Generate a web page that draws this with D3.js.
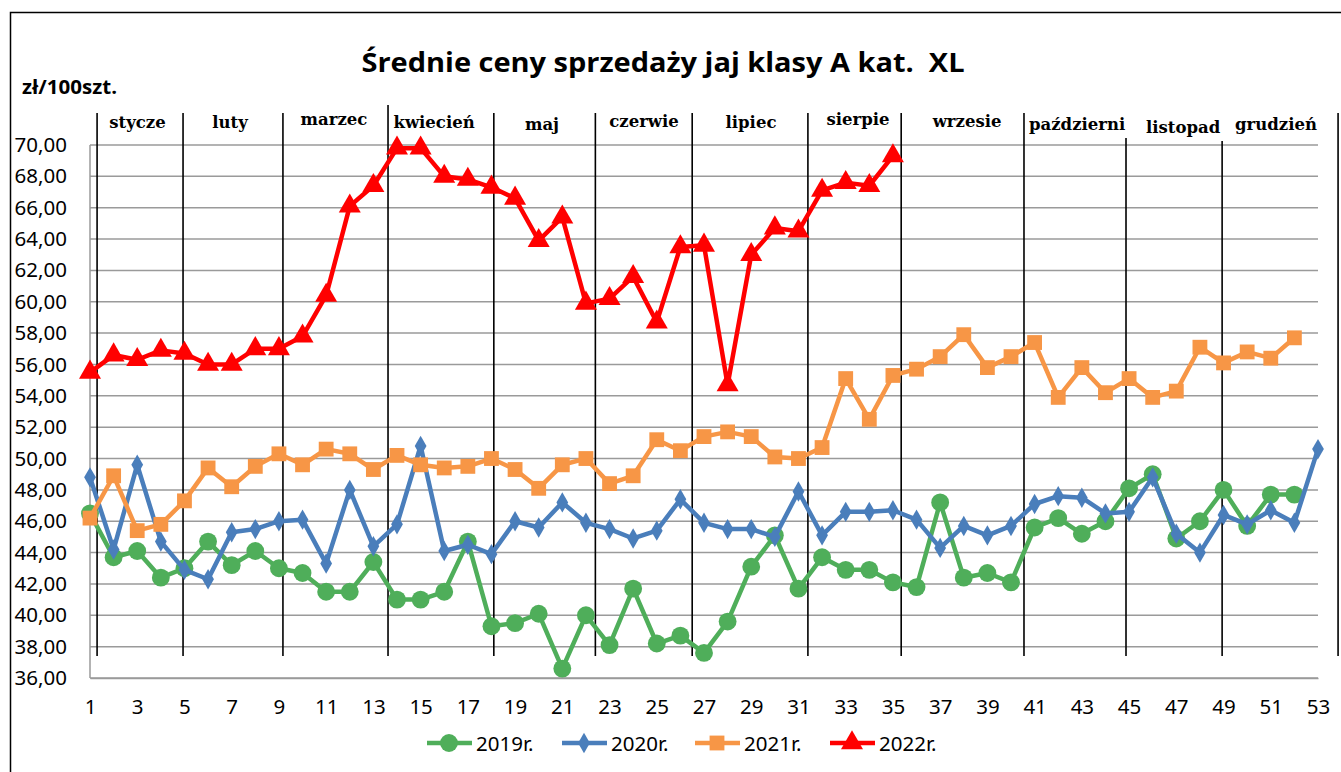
<!DOCTYPE html>
<html>
<head>
<meta charset="utf-8">
<script src="https://cdn.jsdelivr.net/npm/d3@7"></script>
<style>
  body { margin: 0; background: #fff; }
  svg { display: block; }
  text { white-space: pre; }
</style>
</head>
<body>
<script>
// weeks 1..53
const weeks = d3.range(1, 54);
const yTicks = d3.range(36, 71, 2);
const xTicks = d3.range(1, 54, 2);

const v2019 = [46.5, 43.7, 44.1, 42.4, 43.0, 44.7, 43.2, 44.1, 43.0, 42.7, 41.5, 41.5, 43.4, 41.0, 41.0, 41.5, 44.7, 39.3, 39.5, 40.1,
  36.6, 40.0, 38.1, 41.7, 38.2, 38.7, 37.6, 39.6, 43.1, 45.1, 41.7, 43.7, 42.9, 42.9, 42.1, 41.8, 47.2, 42.4, 42.7, 42.1,
  45.6, 46.2, 45.2, 46.0, 48.1, 49.0, 44.9, 46.0, 48.0, 45.7, 47.7, 47.7];
const v2020 = [48.8, 44.2, 49.6, 44.7, 42.9, 42.3, 45.3, 45.5, 46.0, 46.1, 43.3, 48.0, 44.4, 45.8, 50.8, 44.1, 44.5, 43.9, 46.0, 45.6,
  47.2, 45.9, 45.5, 44.9, 45.4, 47.4, 45.9, 45.5, 45.5, 45.0, 47.9, 45.1, 46.6, 46.6, 46.7, 46.1, 44.3, 45.7, 45.1, 45.7,
  47.1, 47.6, 47.5, 46.5, 46.6, 48.8, 45.2, 44.0, 46.4, 45.8, 46.7, 45.9, 50.6];
const v2021 = [46.2, 48.9, 45.4, 45.8, 47.3, 49.4, 48.2, 49.5, 50.3, 49.6, 50.6, 50.3, 49.3, 50.2, 49.6, 49.4, 49.5, 50.0, 49.3, 48.1,
  49.6, 50.0, 48.4, 48.9, 51.2, 50.5, 51.4, 51.7, 51.4, 50.1, 50.0, 50.7, 55.1, 52.5, 55.3, 55.7, 56.5, 57.9, 55.8, 56.5,
  57.4, 53.9, 55.8, 54.2, 55.1, 53.9, 54.3, 57.1, 56.1, 56.8, 56.4, 57.7];
const v2022 = [55.5, 56.6, 56.3, 56.9, 56.7, 56.0, 56.0, 57.0, 57.0, 57.8, 60.4, 66.1, 67.4, 69.8, 69.8, 68.0, 67.8, 67.3, 66.6, 63.9,
  65.4, 59.9, 60.2, 61.6, 58.7, 63.5, 63.6, 54.7, 63.0, 64.7, 64.5, 67.1, 67.6, 67.4, 69.3];

// month names and their placement in week units
const months = ["stycze", "luty", "marzec", "kwiecień", "maj", "czerwie", "lipiec", "sierpie", "wrzesie", "październi", "listopad", "grudzień"];
const monthLabelWeek = [3.01, 6.93, 11.33, 15.57, 20.14, 24.46, 28.99, 33.52, 38.14, 42.8, 47.29, 51.22];
const monthBounds = [1.3, 4.94, 9.17, 13.62, 18.1, 22.4, 26.5, 31.4, 35.35, 40.55, 44.87, 48.94, 53.85];

const seriesNames = ["2019r.", "2020r.", "2021r.", "2022r."];
const seriesColors = ["#4fae5a", "#4a7ebb", "#f79646", "#ff0000"];
const seriesShapes = [d3.symbolCircle, d3.symbolDiamond, d3.symbolSquare, d3.symbolTriangle];
const seriesSizes = [250, 120, 220, 210];
const seriesValues = [v2019, v2020, v2021, v2022];

const width = 1341, height = 772;
const margin = {left: 90, right: 23, top: 145, bottom: 94};

const svg = d3.select("body").append("svg")
  .attr("width", width)
  .attr("height", height);

svg.append("rect")
  .attr("x", 10.5).attr("y", 12.5)
  .attr("width", 1345).attr("height", 780)
  .attr("fill", "#fff")
  .attr("stroke", "#000")
  .attr("stroke-width", 1.5);

let x = d3.scaleLinear().domain([1, 53]).range([margin.left, width - margin.right]);
let y = d3.scaleLinear().domain([36, 70]).range([height - margin.bottom, margin.top]);

// gridlines
svg.append("g")
  .selectAll("line")
  .data(yTicks)
  .enter()
  .append("line")
    .attr("x1", x(1)).attr("x2", x(53))
    .attr("y1", d => y(d)).attr("y2", d => y(d))
    .attr("stroke", "#9a9a9a")
    .attr("stroke-width", 1.5);

svg.append("line")
  .attr("x1", x(1)).attr("x2", x(1))
  .attr("y1", y(36)).attr("y2", y(70))
  .attr("stroke", "#9a9a9a")
  .attr("stroke-width", 1.5);

// y axis
let yAxis = d3.axisLeft(y)
  .tickValues(yTicks)
  .tickSize(0)
  .tickPadding(23)
  .tickFormat(d => d3.format(".2f")(d).replace(".", ","));

svg.append("g")
  .attr("transform", `translate(${x(1)},0)`)
  .call(yAxis)
  .call(g => g.select(".domain").remove())
  .selectAll("text")
    .attr("font-family", "Noto Sans, sans-serif")
    .attr("font-size", 20.5)
    .attr("fill", "#000");

// x axis
let xAxis = d3.axisBottom(x)
  .tickValues(xTicks)
  .tickSize(0)
  .tickPadding(21)
  .tickFormat(d3.format("d"));

svg.append("g")
  .attr("transform", `translate(0,${y(36)})`)
  .call(xAxis)
  .call(g => g.select(".domain").attr("stroke", "#9a9a9a").attr("stroke-width", 1.5))
  .selectAll("text")
    .attr("font-family", "Noto Sans, sans-serif")
    .attr("font-size", 20.5)
    .attr("fill", "#000");

// month separators
svg.append("g")
  .selectAll("line")
  .data(monthBounds)
  .enter()
  .append("line")
    .attr("x1", d => x(d)).attr("x2", d => x(d))
    .attr("y1", (d, i) => i == 3 ? 105 : (i == 10 ? 138 : (i == 11 ? 141 : 113)))
    .attr("y2", 656)
    .attr("stroke", "#000")
    .attr("stroke-width", 1.6);

// month labels
const monthBase = [128, 128, 125, 128, 130, 127, 128, 125, 127, 130, 133, 130];
svg.append("g")
  .selectAll("text")
  .data(months)
  .enter()
  .append("text")
    .attr("x", (d, i) => x(monthLabelWeek[i]))
    .attr("y", (d, i) => monthBase[i])
    .attr("text-anchor", "middle")
    .attr("font-family", "DejaVu Serif, serif")
    .attr("font-weight", "bold")
    .attr("font-size", 16.5)
    .text(d => d);

// series
seriesValues.forEach((vals, s) => {
  let pts = vals.map((v, i) => [weeks[i], v]);
  let line = d3.line().x(d => x(d[0])).y(d => y(d[1]));
  let g = svg.append("g");
  g.append("path")
    .datum(pts)
    .attr("d", line)
    .attr("fill", "none")
    .attr("stroke", seriesColors[s])
    .attr("stroke-width", 4.5)
    .attr("stroke-linejoin", "round");
  g.selectAll("path.marker")
    .data(pts)
    .enter()
    .append("path")
      .attr("class", "marker")
      .attr("transform", d => `translate(${x(d[0])},${y(d[1])})`)
      .attr("d", d3.symbol().type(seriesShapes[s]).size(seriesSizes[s]))
      .attr("fill", seriesColors[s]);
});

// title
svg.append("text")
  .attr("x", 663).attr("y", 72)
  .attr("text-anchor", "middle")
  .attr("font-family", "Open Sans, sans-serif")
  .attr("font-weight", "bold")
  .attr("font-size", 26)
  .attr("textLength", 603)
  .attr("lengthAdjust", "spacingAndGlyphs")
  .text("Średnie ceny sprzedaży jaj klasy A kat.  XL");

svg.append("text")
  .attr("x", 22).attr("y", 94)
  .attr("font-family", "Open Sans, sans-serif")
  .attr("font-weight", "bold")
  .attr("font-size", 19)
  .attr("textLength", 95)
  .attr("lengthAdjust", "spacingAndGlyphs")
  .text("zł/100szt.");

// legend
const legendX = [427, 562, 695, 830];
let legend = svg.append("g").attr("id", "legend");
seriesNames.forEach((name, s) => {
  let lg = legend.append("g").attr("transform", `translate(${legendX[s]},743)`);
  lg.append("line")
    .attr("x1", 0).attr("x2", 45)
    .attr("stroke", seriesColors[s])
    .attr("stroke-width", 4.5);
  lg.append("path")
    .attr("transform", "translate(22,0)")
    .attr("d", d3.symbol().type(seriesShapes[s]).size(seriesSizes[s]))
    .attr("fill", seriesColors[s]);
  lg.append("text")
    .attr("x", 49).attr("y", 8)
    .attr("font-family", "Noto Sans, sans-serif")
    .attr("font-size", 20.5)
    .text(name);
});
</script>
</body>
</html>
